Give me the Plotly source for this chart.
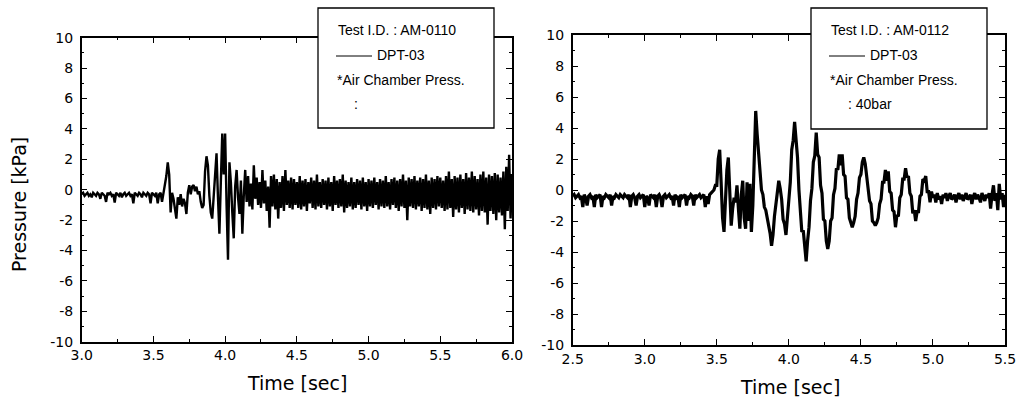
import plotly.graph_objects as go

# ---------------- data ----------------
t_left = [round(3.0 + 0.01 * i, 2) for i in range(301)]
p_left = [
    -0.3, -0.2, -0.4, -0.3, -0.2, -0.4, -0.3, -0.5, -0.2, -0.3,
    -0.4, -0.2, -0.3, -0.6, -0.2, -0.3, -0.4, -0.8, -0.2, -0.3,
    -0.2, -0.4, -0.3, -0.85, -0.2, -0.3, -0.4, -0.2, -0.5, -0.3,
    -0.2, -0.4, -0.3, -0.2, -0.4, -0.3, -0.9, -0.2, -0.3, -0.4,
    -0.2, -0.3, -0.5, -0.2, -0.3, -0.4, -0.2, -0.3, -0.9, -0.2,
    -0.3, -0.4, -0.2, -0.9, -0.3, -0.2, -0.8, -0.2, 0.2, 0.9,
    1.8, 1.0, -1.5, -0.2, -0.6, -1.2, -1.9, -0.5, -1.0, -0.3,
    -1.1, -0.6, -0.9, -1.6, -0.2, 0.3, -0.3, 0.2, 0.3, -0.1,
    0.2, -0.3, -0.1, -0.8, -1.2, -1.0, 1.2, 2.2, 1.6, -0.4,
    -1.5, -1.9, -0.6, 1.0, 2.4, -0.5, -2.9, 0.5, 3.7, 1.0,
    3.7, -1.0, -4.6, 1.8, 0.5, -1.5, -3.2, 0.2, 1.3, -0.5,
    -1.6, 0.6, -2.9, -0.4, 1.3, -0.8, 0.9, -1.1, 0.4, -1.3,
    1.6, -0.6, 0.8, -1.0, 0.5, -1.2, 1.3, -0.9, 0.6, -1.4,
    0.2, -2.5, 0.9, -1.1, 1.0, -1.3, 0.7, -1.9, 0.5, -1.2,
    0.9, -1.4, 1.3, -1.0, 0.6, -1.2, 0.8, -1.3, 0.7, -1.0,
    0.5, -1.2, 0.9, -1.3, 0.6, -1.1, 0.7, -1.4, 0.5, -0.9,
    0.8, -1.2, 0.6, -1.3, 1.0, -1.1, 0.5, -1.2, 0.7, -1.0,
    0.6, -1.3, 0.8, -1.1, 0.5, -1.4, 0.9, -1.0, 0.6, -1.2,
    0.7, -1.1, 1.0, -1.5, 0.6, -1.2, 0.5, -1.1, 0.8, -1.3,
    0.5, -1.2, 0.7, -1.0, 0.6, -1.3, 0.8, -1.1, 0.5, -1.4,
    0.7, -1.1, 0.6, -1.2, 0.8, -1.0, 0.5, -1.3, 0.7, -1.1,
    0.6, -1.2, 0.9, -1.1, 0.5, -1.3, 0.7, -1.0, 0.8, -1.2,
    0.6, -1.4, 0.7, -1.1, 1.0, -1.2, 0.6, -2.0, 0.8, -1.1,
    0.7, -1.2, 0.9, -1.3, 0.6, -1.1, 0.8, -1.4, 0.7, -1.2,
    1.0, -1.3, 0.6, -1.6, 0.8, -1.2, 0.7, -1.3, 0.9, -1.1,
    0.8, -1.2, 0.6, -1.4, 0.9, -1.3, 1.2, -1.2, 0.7, -1.8,
    0.9, -1.3, 0.8, -1.5, 1.0, -1.2, 0.7, -1.6, 1.1, -1.3,
    0.8, -1.4, 1.2, -1.5, 0.9, -1.3, 0.7, -1.7, 1.0, -1.4,
    1.2, -1.5, 0.8, -2.3, 1.0, -1.4, 0.9, -1.6, 1.1, -2.0,
    1.0, -1.5, 0.8, -1.7, 1.2, -2.6, 1.5, -1.4, 2.3, -1.9,
    1.0,
]

t_right = [round(2.5 + 0.01 * i, 2) for i in range(301)]
p_right = [
    -0.4, -0.3, -0.5, -0.4, -0.3, -0.5, -0.4, -1.1, -0.3, -0.5,
    -1.0, -0.4, -0.3, -0.5, -0.4, -1.1, -0.3, -0.5, -0.4, -0.3,
    -1.1, -0.4, -0.5, -0.3, -0.4, -0.5, -0.3, -1.0, -0.4, -0.5,
    -0.3, -0.4, -0.5, -0.3, -0.4, -0.5, -0.3, -0.4, -0.5, -0.3,
    -1.1, -0.4, -0.3, -0.5, -1.0, -0.4, -0.3, -0.5, -0.4, -0.3,
    -1.1, -0.4, -0.5, -1.0, -0.3, -0.4, -0.5, -0.3, -1.1, -0.4,
    -0.3, -0.5, -1.1, -0.4, -0.3, -0.5, -0.4, -0.3, -0.5, -0.4,
    -1.0, -0.3, -0.5, -0.4, -1.1, -0.3, -0.5, -0.4, -0.3, -1.0,
    -0.4, -0.5, -0.3, -0.4, -1.0, -0.3, -0.5, -0.4, -0.3, -0.5,
    -0.4, -0.3, -1.1, -0.4, -0.9, -0.3, -0.2, -0.1, 0.0, 0.3,
    0.3, 2.0, 2.6, 0.5, -1.8, -2.7, -0.8, 1.3, 2.1, 0.0,
    -2.3, -1.2, -0.5, -0.8, 0.3, -1.2, -2.5, -0.3, 0.6, -1.8,
    -2.5, 0.5, -2.0, 0.4, -2.7, -1.0, 2.5, 5.1, 3.6, 2.4,
    1.6, 0.0, -0.3, -1.1, -1.3, -1.8, -2.1, -2.8, -3.6, -2.9,
    -1.7, -1.0, 0.0, 0.6, 0.1, -0.6, -1.9, -2.2, -2.9, -1.8,
    -0.3, 0.5, 2.6, 3.2, 4.4, 3.3, 2.1, 0.0, -1.1, -2.7,
    -2.6, -3.8, -4.6, -3.3, -2.4, -0.7, 0.1, 1.8, 2.2, 3.7,
    2.3, 2.1, 0.3, -0.2, -1.9, -2.0, -3.3, -3.8, -3.3, -2.0,
    -1.8, -0.3, 0.1, 1.4, 1.3, 2.3, 1.6, 2.3, 1.0, 0.9,
    -0.5, -0.6, -1.8, -2.1, -2.4, -2.1, -1.7, -0.6, -0.2, 0.8,
    1.0, 1.8, 2.1, 1.7, 0.9, 0.5, -0.7, -0.9, -2.0, -2.1,
    -2.3, -2.1, -1.8, -0.9, -0.6, 0.5, 0.5, 1.3, 0.6, 1.2,
    -0.1, -0.2, -1.3, -1.4, -2.4, -1.6, -1.7, -0.5, -0.3, 0.7,
    0.7, 1.4, 0.8, 0.9, -0.2, -0.4, -1.5, -1.3, -2.0, -1.4,
    -1.4, -0.4, -0.3, 0.7, 0.6, 0.9, -0.1, -0.1, -0.8, -0.1,
    -0.5, -0.3, -0.8, -0.2, -0.6, -0.4, -0.9, -0.3, -0.5, -0.2,
    -0.7, -0.4, -0.2, -0.6, -0.5, -0.3, -0.8, -0.4, -0.2, -0.6,
    -0.3, -0.7, -0.4, -0.2, -0.6, -0.5, -0.3, -0.9, -0.4, -0.2,
    -0.6, -0.3, -0.5, -0.8, -0.2, -0.4, -0.7, -0.3, -0.5, -0.2,
    -1.2, -0.3, 0.3, -0.7, -0.2, -1.3, 0.4, -0.6, -0.2, -1.1,
    -0.3,
]

y_tickvals = [-10, -8, -6, -4, -2, 0, 2, 4, 6, 8, 10]
y_ticktext = ["-10", "-8", "-6", "-4", "-2", "0", "2", "4", "6", "8", "10"]
legend_left = ["Test I.D. : AM-0110", "DPT-03", "*Air Chamber Press.", ":"]
legend_right = ["Test I.D. : AM-0112", "DPT-03", "*Air Chamber Press.", ": 40bar"]
x_title = "Time [sec]"
y_title = "Pressure [kPa]"

# ---------------- layout helpers ----------------
W, H = 1021, 403
FONT = "DejaVu Sans, sans-serif"
LFONT = "Liberation Sans, Arial, sans-serif"


def px(x):
    return x / W


def py(y):
    return 1 - y / H


fig = go.Figure()
fig.add_trace(go.Scatter(x=t_left, y=p_left, mode="lines",
                         line=dict(color="black", width=2.4),
                         xaxis="x", yaxis="y", showlegend=False))
fig.add_trace(go.Scatter(x=t_right, y=p_right, mode="lines",
                         line=dict(color="black", width=3.2),
                         xaxis="x2", yaxis="y2", showlegend=False))


def xaxis_cfg(domain, rng, anchor):
    return dict(domain=domain, range=rng, anchor=anchor, tick0=rng[0], dtick=0.5,
                tickformat=".1f", ticks="inside", ticklen=6, tickwidth=1,
                tickcolor="black", mirror="allticks", showline=True, linewidth=1.5,
                linecolor="black", showgrid=False, zeroline=False, automargin=False,
                ticklabelstandoff=0,
                tickfont=dict(family=FONT, size=14, color="black"),
                minor=dict(dtick=0.25, tick0=rng[0], ticks="inside", ticklen=3,
                           tickwidth=1, tickcolor="black", showgrid=False))


def yaxis_cfg(domain, anchor):
    return dict(domain=domain, range=[-10, 10], anchor=anchor,
                tickmode="array", tickvals=y_tickvals, ticktext=y_ticktext,
                ticks="inside", ticklen=6, tickwidth=1, tickcolor="black",
                mirror="allticks", showline=True, linewidth=1.5, linecolor="black",
                showgrid=False, zeroline=False, automargin=False,
                ticklabelstandoff=4,
                tickfont=dict(family=FONT, size=14, color="black"),
                minor=dict(dtick=1, tick0=0, ticks="inside", ticklen=3, tickwidth=1,
                           tickcolor="black", showgrid=False))


fig.update_layout(
    template="none",
    width=W, height=H, margin=dict(l=0, r=0, t=0, b=0, pad=0, autoexpand=False),
    paper_bgcolor="white", plot_bgcolor="white", showlegend=False,
    xaxis=xaxis_cfg([px(81.7), px(512)], [3.0, 6.0], "y"),
    yaxis=yaxis_cfg([py(341.7), py(37.7)], "x"),
    xaxis2=xaxis_cfg([px(572.7), px(1005)], [2.5, 5.5], "y2"),
    yaxis2=yaxis_cfg([py(345), py(35)], "x2"),
    font=dict(family=FONT, color="black"),
)

shapes = []
annotations = []


def add_legend(x0, x1, y0, y1, lines, tx, colon_x):
    shapes.append(dict(type="rect", xref="paper", yref="paper", x0=px(x0), x1=px(x1),
                       y0=py(y1), y1=py(y0), fillcolor="white",
                       line=dict(color="black", width=1.3), layer="above"))
    annotations.append(dict(text=lines[0], x=px(tx), y=py(30), xref="paper", yref="paper",
                            xanchor="left", yanchor="middle", showarrow=False,
                            font=dict(family=LFONT, size=14, color="black")))
    shapes.append(dict(type="line", xref="paper", yref="paper", x0=px(tx), x1=px(tx + 36),
                       y0=py(56), y1=py(56), line=dict(color="black", width=1),
                       layer="above"))
    annotations.append(dict(text=lines[1], x=px(tx + 39), y=py(55), xref="paper", yref="paper",
                            xanchor="left", yanchor="middle", showarrow=False,
                            font=dict(family=LFONT, size=14, color="black")))
    annotations.append(dict(text=lines[2], x=px(tx - 1), y=py(80), xref="paper", yref="paper",
                            xanchor="left", yanchor="middle", showarrow=False,
                            font=dict(family=LFONT, size=14, color="black")))
    annotations.append(dict(text=lines[3], x=px(colon_x), y=py(104), xref="paper", yref="paper",
                            xanchor="left", yanchor="middle", showarrow=False,
                            font=dict(family=LFONT, size=14, color="black")))


add_legend(318, 494, 8, 128, legend_left, 336, 352)
add_legend(811, 987, 8, 129, legend_right, 829, 846)

annotations.append(dict(text=x_title, x=px(297), y=py(383), xref="paper", yref="paper",
                        xanchor="center", yanchor="middle", showarrow=False,
                        font=dict(family=FONT, size=19, color="black")))
annotations.append(dict(text=x_title, x=px(790), y=py(387), xref="paper", yref="paper",
                        xanchor="center", yanchor="middle", showarrow=False,
                        font=dict(family=FONT, size=19, color="black")))
annotations.append(dict(text=y_title, x=px(19), y=py(205), xref="paper", yref="paper",
                        xanchor="center", yanchor="middle", showarrow=False, textangle=-90,
                        font=dict(family=FONT, size=19, color="black")))

fig.update_layout(shapes=shapes, annotations=annotations)
fig.write_html("out.html", config={"displayModeBar": False},
               post_script="document.body.style.margin='0px';document.body.style.overflow='hidden';")
